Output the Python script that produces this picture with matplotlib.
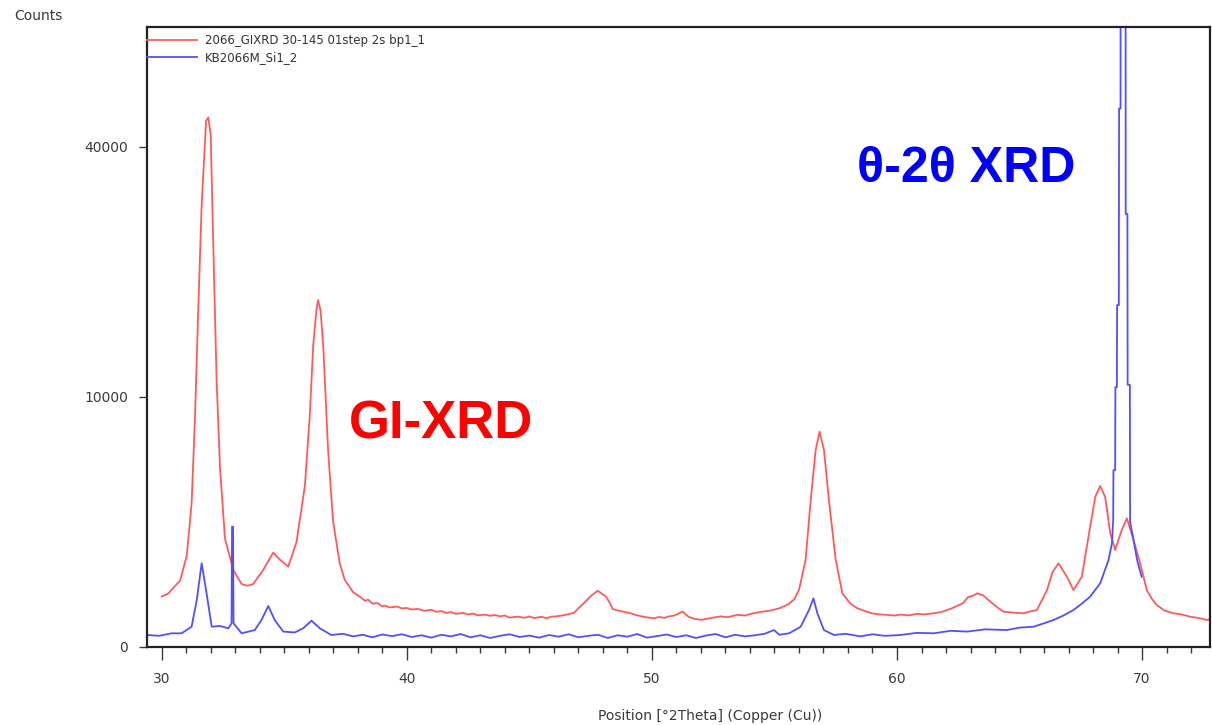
import numpy as np
import matplotlib
matplotlib.use("Agg")
import matplotlib.pyplot as plt
from matplotlib.ticker import FixedLocator, MultipleLocator

# GI-XRD scan (red) - 2theta positions and counts
gixrd_x = [30.0, 30.25, 30.48, 30.75, 31.02, 31.22, 31.36, 31.49, 31.63, 31.81, 31.9,
           32.0, 32.1, 32.24, 32.38, 32.58, 32.92, 33.26, 33.5, 33.73, 34.14, 34.55,
           34.82, 35.16, 35.5, 35.84, 36.04, 36.18, 36.31, 36.38, 36.48, 36.59, 36.79,
           36.99, 37.26, 37.47, 37.81, 38.1, 38.3, 38.42, 38.6, 38.8, 39.0, 39.1, 39.3,
           39.6, 39.8, 40.0, 40.2, 40.46, 40.7, 41.0, 41.2, 41.4, 41.6, 41.81, 42.0,
           42.3, 42.5, 42.7, 42.9, 43.17, 43.4, 43.6, 43.8, 44.0, 44.2, 44.53, 44.8,
           45.0, 45.2, 45.5, 45.7, 45.89, 46.1, 46.4, 46.6, 46.84, 47.0, 47.2, 47.52,
           47.79, 48.13, 48.3, 48.4, 48.74, 49.0, 49.2, 49.4, 49.6, 49.8, 50.1,
           50.3, 50.5, 50.7, 50.91, 51.25, 51.5, 51.72, 52.0, 52.27, 52.5, 52.8, 53.1,
           53.49, 53.8, 54.1, 54.4, 54.85, 55.2, 55.53, 55.8, 56.0,
           56.27, 56.48, 56.68, 56.84, 57.02, 57.22, 57.5, 57.77, 58.1, 58.38, 58.7,
           59.0, 59.3, 59.6, 59.9, 60.14, 60.5, 60.8, 61.1, 61.5, 61.8, 62.0, 62.2,
           62.45, 62.7, 62.9, 63.1, 63.27, 63.5, 63.81, 64.1, 64.35, 64.7, 65.16, 65.4,
           65.71, 66.12, 66.35, 66.59, 66.93, 67.2, 67.54, 67.88, 68.09, 68.29, 68.49,
           68.7, 68.9, 69.17, 69.38, 69.65, 69.92, 70.19, 70.4, 70.6, 70.9, 71.28,
           71.6, 71.96, 72.3, 72.64, 72.8]
gixrd_counts = [408, 450, 563, 703, 1325, 3295, 8540, 18117, 31258, 44270, 44860,
                41943, 26500, 11347, 5104, 1880, 949, 635, 600, 635, 949, 1426,
                1222, 1032, 1764, 4147, 8540, 14535, 18117, 19265, 18117, 14535, 6147,
                2540, 1129, 718, 480, 400, 340, 360, 300, 310, 265, 275, 250,
                262, 238, 244, 225, 232, 210, 222, 198, 207, 186, 195, 176,
                185, 170, 178, 160, 168, 156, 164, 150, 158, 138, 148, 136,
                150, 134, 146, 132, 147, 150, 162, 172, 190, 240, 300, 420,
                507, 405, 300, 230, 205, 190, 176, 160, 150, 140, 132,
                145, 135, 150, 158, 200, 145, 128, 118, 128, 138, 150, 142,
                166, 158, 180, 196, 214, 240, 285, 360, 520,
                1211, 3457, 6209, 7417, 6209, 3457, 1211, 461, 300, 240, 205,
                180, 170, 165, 158, 168, 160, 176, 170, 182, 195, 215, 235,
                270, 310, 400, 420, 461, 430, 329, 250, 199, 190, 182, 200,
                219, 520, 900, 1121, 791, 520, 791, 2315, 3613, 4147, 3613,
                2069, 1505, 2190, 2649, 1832, 1121, 520, 370, 282, 215, 182,
                170, 147, 135, 117, 125]

# theta-2theta scan (blue)
xrd_x = [29.4, 29.9, 30.4, 30.81, 31.22, 31.43, 31.63, 31.83, 32.04, 32.37, 32.72,
         32.85, 32.87, 32.91, 32.93, 33.26, 33.8, 34.07, 34.35, 34.61, 34.96, 35.43,
         35.77, 36.11, 36.45, 36.92, 37.4, 37.8, 38.2, 38.6, 39.0, 39.4, 39.8, 40.2,
         40.6, 41.0, 41.4, 41.8, 42.2, 42.6, 43.0, 43.4, 43.8, 44.2, 44.6, 45.0,
         45.4, 45.8, 46.2, 46.6, 47.0, 47.4, 47.8, 48.2, 48.6, 49.0, 49.4, 49.8,
         50.2, 50.6, 51.0, 51.4, 51.8, 52.2, 52.6, 53.0, 53.4, 53.8, 54.2, 54.6,
         54.98, 55.2, 55.6, 56.07, 56.41, 56.59, 56.75, 57.02, 57.43, 57.9, 58.5,
         59.0, 59.5, 60.14, 60.8, 61.5, 62.2, 62.86, 63.6, 64.49, 65.0, 65.57, 66.0,
         66.39, 66.8, 67.2, 67.5, 67.88, 68.29, 68.63, 68.77, 68.82, 68.83, 68.9,
         68.91, 68.97, 68.98, 69.05, 69.06, 69.12, 69.13, 69.32, 69.33, 69.4, 69.41,
         69.5, 69.51, 69.65, 69.8, 69.98]
xrd_counts = [23, 20, 30, 30, 66, 353, 1121, 461, 66, 71, 56,
              90, 2315, 2315, 90, 30, 46, 117, 269, 117, 38, 34,
              56, 111, 56, 23, 28, 18, 24, 15, 25, 19, 26, 16,
              22, 14, 24, 18, 27, 15, 22, 13, 20, 26, 16, 21,
              14, 23, 17, 26, 15, 20, 24, 13, 22, 17, 27, 14,
              19, 25, 16, 22, 13, 21, 27, 15, 24, 18, 22, 28,
              46, 24, 30, 66, 219, 379, 182, 46, 23, 28, 18,
              26, 20, 23, 32, 30, 42, 38, 50, 46, 60, 66, 90,
              117, 160, 219, 290, 405, 649, 1211, 1720, 2600, 5000, 5000,
              10800, 10800, 18700, 18700, 46400, 46400, 200000, 200000, 30000, 30000, 11000,
              11000, 2500, 1830, 1200, 790]

y_ticks = [0, 10000, 40000]
x_ticks = [30, 40, 50, 60, 70]
labels = ["2066_GIXRD 30-145 01step 2s bp1_1", "KB2066M_Si1_2"]

W, H = 1212, 725
fig = plt.figure(figsize=(W / 100, H / 100), dpi=100)
ax = fig.add_axes([147 / W, 1 - 647 / H, (1210 - 147) / W, (647 - 27) / H])

ax.plot(gixrd_x, gixrd_counts, color="#ff5a5a", lw=1.3, label=labels[0])
ax.plot(xrd_x, xrd_counts, color="#5050ff", lw=1.3, label=labels[1])

# square-root intensity axis
ax.set_yscale("function", functions=(lambda v: np.sqrt(np.clip(v, 0, None)),
                                     lambda v: np.asarray(v) ** 2))
ax.set_ylim(0, 61500)
ax.set_xlim(29.4, 72.77)

ax.yaxis.set_major_locator(FixedLocator(y_ticks))
ax.yaxis.set_minor_locator(FixedLocator([]))
ax.set_yticklabels([str(t) for t in y_ticks])
ax.xaxis.set_major_locator(FixedLocator(x_ticks))
ax.xaxis.set_minor_locator(MultipleLocator(1))

tc = "#3a3a3a"
ax.tick_params(axis="x", which="major", direction="out", length=9, width=1, color=tc,
               labelsize=10, labelcolor=tc, pad=9)
ax.tick_params(axis="x", which="minor", direction="out", length=4, width=1, color=tc)
ax.tick_params(axis="y", which="major", direction="out", length=5.5, width=1, color=tc,
               labelsize=10, labelcolor=tc, pad=8)
for s in ax.spines.values():
    s.set_linewidth(1.6)
    s.set_color("#222222")

ax.set_xlabel("Position [°2Theta] (Copper (Cu))", fontsize=10, color=tc)
ax.xaxis.set_label_coords((710 - 147) / 1063, (647 - 716) / 620)
ax.xaxis.label.set_verticalalignment("center")
fig.text(14 / W, 1 - 16 / H, "Counts", fontsize=10, color=tc, ha="left", va="center")

ax.legend(loc="upper left", bbox_to_anchor=(0, 1 - 7 / 620), frameon=False,
          fontsize=8.5, handlelength=4.2, handletextpad=0.7, borderpad=0,
          borderaxespad=0, labelspacing=0.35, labelcolor="#333333")

fig.text(441 / W, 1 - 425 / H, "GI-XRD", color="#ff0000", fontsize=38,
         fontweight="bold", family=["Liberation Sans", "DejaVu Sans"],
         ha="center", va="center")
fig.text(966 / W, 1 - 169 / H, "θ-2θ XRD", color="#0000ff", fontsize=36,
         fontweight="bold", family=["Liberation Sans", "DejaVu Sans"],
         ha="center", va="center")

fig.savefig("out.png", dpi=100)
